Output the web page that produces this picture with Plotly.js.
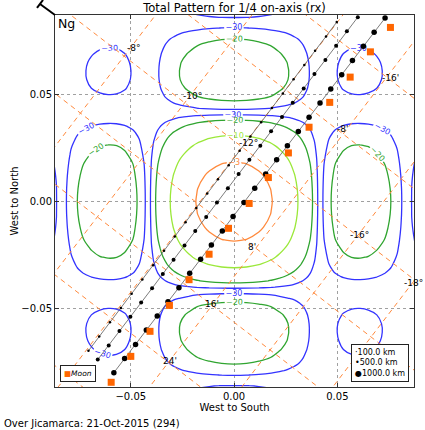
<!DOCTYPE html>
<html><head><meta charset="utf-8">
<script src="https://cdn.plot.ly/plotly-3.0.1.min.js"></script>
<style>html,body{margin:0;padding:0;background:#fff}#chart{width:425px;height:430px}</style>
</head><body><div id="chart"></div>
<script>
// ---------- data ----------
// antenna pattern profile (dB) sampled along each direction-cosine axis
const profilePos = [-0.088,-0.086,-0.084,-0.082,-0.081,-0.079,-0.076,-0.073,-0.069,-0.065,-0.061,-0.057,-0.053,-0.049,-0.046,-0.0435,-0.0425,-0.0415,-0.0407,-0.040,-0.039,-0.037,-0.035,-0.032,-0.029,-0.026,-0.022,-0.018,-0.012,-0.006,0,0.006,0.012,0.018,0.022,0.026,0.029,0.032,0.035,0.037,0.039,0.040,0.0407,0.0415,0.0425,0.0435,0.046,0.049,0.053,0.057,0.061,0.065,0.069,0.073,0.076,0.079,0.081,0.082,0.084,0.086,0.088];
const patternX = [-26,-29.5,-45,-32.3,-29.5,-24.5,-20.1,-17.4,-15.2,-13.8,-13.3,-13.5,-14.7,-17.3,-21.3,-27.5,-32.5,-45,-31.5,-26.5,-22.5,-17.6,-14.4,-10.9,-8.4,-6.4,-4.4,-2.8,-1.2,-0.3,0,-0.3,-1.2,-2.8,-4.4,-6.4,-8.4,-10.9,-14.4,-17.6,-22.5,-26.5,-31.5,-45,-32.5,-27.5,-21.3,-17.3,-14.7,-13.5,-13.3,-13.8,-15.2,-17.4,-20.1,-24.5,-29.5,-32.3,-45,-29.5,-26];
const patternY = [-26,-29.5,-45,-32.3,-29.5,-24.5,-20.1,-17.4,-15.2,-13.8,-13.3,-13.5,-14.7,-17.3,-21.3,-27.5,-32.5,-45,-31.5,-26.5,-22.5,-17.6,-14.4,-10.9,-8.4,-6.4,-4.4,-2.8,-1.2,-0.3,0,-0.3,-1.2,-2.8,-4.4,-6.4,-8.4,-10.9,-14.4,-17.6,-22.5,-26.5,-31.5,-45,-32.5,-27.5,-21.3,-17.3,-14.7,-13.5,-13.3,-13.8,-15.2,-17.4,-20.1,-24.5,-29.5,-32.3,-45,-29.5,-26];
const contourLevels = [-30, -20, -10, -3];

// declination lines (through a point, with slope) and labels
const decLineX = [-0.0503, -0.0213, 0.0053, 0.0324, 0.0599, 0.0862];
const decLineY = [0.0716, 0.0494, 0.0274, 0.0058, -0.0158, -0.0382];
const decLineSlope = [1.26, 1.26, 1.26, 1.26, 1.26, 1.26];
const decLabels = ['-8°', '-10°', '-12°', '-16°', '-18°'];
const decLabelX = [-0.0528, -0.0257, 0.0015, 0.0552, 0.0813];
const decLabelY = [0.0716, 0.0494, 0.0274, -0.0158, -0.0382];

// hour-angle lines and labels
const haLineX = [0.0745, 0.0532, 0.0318, 0.0104, -0.0110, -0.0324, -0.0538];
const haLineY = [0.0576, 0.0312, 0.0047, -0.0217, -0.0482, -0.0746, -0.1011];
const haLineSlope = [-0.743, -0.743, -0.743, -0.743, -0.743, -0.743, -0.743];
const haLabels = ["-16'", "-8'", "8'", "16'", "24'"];
const haLabelX = [0.0707, 0.0489, 0.0058, -0.0150, -0.0353];
const haLabelY = [0.0576, 0.0338, -0.0214, -0.0480, -0.0746];

// ray traces at three ranges
const traj100X = [-0.0705,-0.0653,-0.0601,-0.0548,-0.0496,-0.0444,-0.0392,-0.0339,-0.0287,-0.0235,-0.0183,-0.0130,-0.0078,-0.0026,0.0027,0.0079,0.0131,0.0183,0.0236,0.0288,0.0340,0.0392,0.0445,0.0497];
const traj100Y = [-0.0697,-0.0630,-0.0564,-0.0497,-0.0430,-0.0364,-0.0297,-0.0230,-0.0163,-0.0097,-0.0030,0.0037,0.0104,0.0170,0.0237,0.0304,0.0370,0.0437,0.0504,0.0571,0.0637,0.0704,0.0771,0.0838];
const traj500X = [-0.0660,-0.0607,-0.0555,-0.0502,-0.0450,-0.0397,-0.0345,-0.0293,-0.0240,-0.0188,-0.0135,-0.0083,-0.0030,0.0022,0.0074,0.0127,0.0179,0.0232,0.0284,0.0337,0.0389,0.0442,0.0494,0.0546,0.0599];
const traj500Y = [-0.0738,-0.0672,-0.0605,-0.0538,-0.0472,-0.0405,-0.0338,-0.0272,-0.0205,-0.0138,-0.0072,-0.0005,0.0062,0.0128,0.0195,0.0261,0.0328,0.0395,0.0461,0.0528,0.0595,0.0661,0.0728,0.0795,0.0861];
const traj1000X = [-0.0582,-0.0530,-0.0477,-0.0425,-0.0372,-0.0320,-0.0267,-0.0215,-0.0162,-0.0110,-0.0057,-0.0005,0.0048,0.0100,0.0153,0.0206,0.0258,0.0311,0.0363,0.0416,0.0468,0.0521,0.0573,0.0626,0.0678,0.0731];
const traj1000Y = [-0.0799,-0.0733,-0.0667,-0.0600,-0.0534,-0.0468,-0.0402,-0.0335,-0.0269,-0.0203,-0.0137,-0.0070,-0.0004,0.0062,0.0129,0.0195,0.0261,0.0327,0.0394,0.0460,0.0526,0.0592,0.0659,0.0725,0.0791,0.0857];

// Moon positions
const moonX = [-0.0595,-0.0500,-0.0407,-0.0313,-0.0218,-0.0121,-0.0027,0.0073,0.0166,0.0263,0.0363,0.0463,0.0562,0.0660,0.0757];
const moonY = [-0.0844,-0.0723,-0.0606,-0.0485,-0.0365,-0.0246,-0.0125,-0.0009,0.0112,0.0227,0.0347,0.0463,0.0581,0.0699,0.0813];

// ---------- styles ----------
const FONT = 'DejaVu Sans, Liberation Sans, sans-serif';
const contourColors = ['#3333ff', '#30a530', '#9be83a', '#ff8a3d'];
const gridOrange = '#ff8a3d';

// ---------- build ----------
const z = patternY.map(b => patternX.map(a => a + b));
const traces = [];

contourLevels.forEach((lv, k) => traces.push({
  type: 'contour', x: profilePos, y: profilePos, z: z, showscale: false,
  hoverinfo: 'skip', autocontour: false,
  contours: {start: lv, end: lv + 0.5, size: 1, coloring: 'none', showlabels: true,
             labelformat: '.0f', labelfont: {size: 8, color: contourColors[k], family: FONT}},
  line: {color: contourColors[k], width: 1.3, smoothing: 1}
}));

function lineSet(xs, ys, ss) {
  const lx = [], ly = [];
  for (let i = 0; i < xs.length; i++) {
    lx.push(xs[i] - 0.3, xs[i] + 0.3, null);
    ly.push(ys[i] - 0.3 * ss[i], ys[i] + 0.3 * ss[i], null);
  }
  return {lx, ly};
}
const dl = lineSet(decLineX, decLineY, decLineSlope);
const hl = lineSet(haLineX, haLineY, haLineSlope);
[dl, hl].forEach(s => traces.push({
  type: 'scatter', mode: 'lines', x: s.lx, y: s.ly, hoverinfo: 'skip',
  line: {color: gridOrange, width: 1, dash: '5px,4px'}, connectgaps: false
}));

[[traj100X, traj100Y, 2.5], [traj500X, traj500Y, 4], [traj1000X, traj1000Y, 5.5]].forEach(t => traces.push({
  type: 'scatter', mode: 'lines+markers', x: t[0], y: t[1], hoverinfo: 'skip',
  line: {color: '#5a5a5a', width: 0.8}, marker: {color: '#000', size: t[2]}
}));

traces.push({type: 'scatter', mode: 'markers', x: moonX, y: moonY, hoverinfo: 'skip',
  marker: {symbol: 'square', size: 7, color: '#ff6600', line: {width: 0}}});

const annotations = [];
decLabels.forEach((t, i) => annotations.push({x: decLabelX[i], y: decLabelY[i], text: t, xanchor: 'left', yanchor: 'middle', showarrow: false, font: {size: 9, color: '#000', family: FONT}}));
haLabels.forEach((t, i) => annotations.push({x: haLabelX[i], y: haLabelY[i], text: t, xanchor: 'left', yanchor: 'middle', showarrow: false, font: {size: 9, color: '#000', family: FONT}}));
annotations.push({xref: 'paper', yref: 'paper', x: 0.004, y: 0.976, text: 'Ng', xanchor: 'left', yanchor: 'middle', showarrow: false, font: {size: 12.5, color: '#000', family: FONT}});
annotations.push({xref: 'paper', yref: 'paper', x: -0.1476, y: -0.0977, text: 'Over Jicamarca: 21-Oct-2015 (294)', xanchor: 'left', yanchor: 'middle', showarrow: false, font: {size: 10, color: '#000', family: FONT}});
annotations.push({xref: 'paper', yref: 'paper', x: 0.0139, y: 0.0126, xanchor: 'left', yanchor: 'bottom', showarrow: false,
  text: "<span style='color:#ff6600'>■</span><i>Moon</i>", font: {size: 7.5, color: '#000', family: FONT},
  bordercolor: '#222', borderwidth: 1, borderpad: 3, bgcolor: '#fff'});
annotations.push({xref: 'paper', yref: 'paper', x: 0.9861, y: 0.0135, xanchor: 'right', yanchor: 'bottom', showarrow: false, align: 'left',
  text: '·100.0 km<br>•500.0 km<br>●1000.0 km', font: {size: 8, color: '#000', family: FONT},
  bordercolor: '#222', borderwidth: 1, borderpad: 3, bgcolor: '#fff'});

const axisCommon = {
  tickvals: [-0.05, 0, 0.05], ticktext: ['−0.05', '0.00', '0.05'],
  showgrid: true, gridcolor: '#a0a0a0', griddash: 'dot', gridwidth: 1, zeroline: false,
  showline: true, mirror: 'allticks', linecolor: '#333', linewidth: 1,
  ticks: 'inside', ticklen: 4, tickcolor: '#333', tickfont: {size: 10, color: '#000', family: FONT},
  automargin: false
};

const layout = {
  width: 425, height: 430,
  margin: {l: 55, r: 11, t: 15, b: 43.3},
  paper_bgcolor: '#fff', plot_bgcolor: '#fff',
  showlegend: false,
  font: {family: FONT, color: '#000'},
  title: {text: 'Total Pattern for 1/4 on-axis (rx)', font: {size: 11.5, color: '#000', family: FONT},
          xref: 'paper', x: 0.5, xanchor: 'center', yref: 'container', y: 0.981, yanchor: 'middle'},
  xaxis: Object.assign({}, axisCommon, {range: [-0.0867, 0.0871],
          title: {text: 'West to South', font: {size: 10, color: '#000', family: FONT}, standoff: 0}}),
  yaxis: Object.assign({}, axisCommon, {range: [-0.0866, 0.0871],
          title: {text: 'West to North', font: {size: 10, color: '#000', family: FONT}, standoff: 0}}),
  annotations: annotations,
  shapes: [
    {type: 'line', xref: 'paper', yref: 'paper', x0: -0.0418, y0: 1.0296, x1: 0, y1: 1, line: {color: '#000', width: 2}},
    {type: 'line', xref: 'paper', yref: 'paper', x0: -0.0334, y0: 1.0404, x1: -0.0501, y1: 1.0189, line: {color: '#000', width: 2}}
  ]
};

Plotly.newPlot('chart', traces, layout, {staticPlot: true, displayModeBar: false});
</script>
</body></html>
